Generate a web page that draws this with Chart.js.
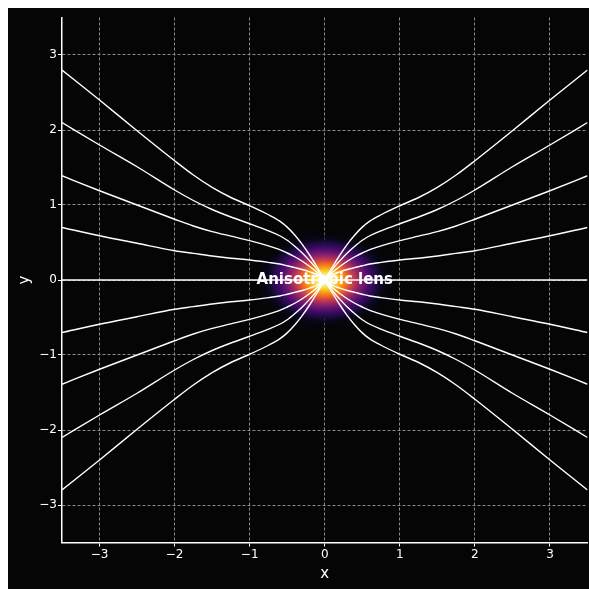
<!DOCTYPE html>
<html>
<head>
<meta charset="utf-8">
<script src="https://cdn.jsdelivr.net/npm/chart.js@4/dist/chart.umd.min.js"></script>
<style>
  html, body { background: #ffffff; overflow: hidden; }
  body { margin: 8px 0 0 8px; }
  #wrap { width: 581px; height: 581px; }
</style>
</head>
<body>
<div id="wrap"><canvas id="c" width="581" height="581"></canvas></div>
<script>
// ---- data ----
const halfX = [-3.5, -3, -2.5, -2, -1.75, -1.5, -1.25, -1, -0.75, -0.6, -0.5, -0.4, -0.3, -0.2, -0.1, 0];
const ray1 = [2.8, 2.4, 1.99, 1.59, 1.40, 1.235, 1.1, 0.99, 0.87, 0.785, 0.705, 0.60, 0.475, 0.33, 0.17, 0];
const ray2 = [2.1, 1.8, 1.51, 1.2, 1.06, 0.94, 0.84, 0.75, 0.655, 0.59, 0.53, 0.45, 0.36, 0.255, 0.14, 0];
const ray3 = [1.39, 1.19, 1.0, 0.81, 0.72, 0.645, 0.585, 0.525, 0.455, 0.405, 0.36, 0.31, 0.25, 0.18, 0.10, 0];
const ray4 = [0.7, 0.59, 0.49, 0.39, 0.355, 0.32, 0.29, 0.267, 0.235, 0.213, 0.19, 0.165, 0.14, 0.108, 0.07, 0];
const ray0 = [0, 0, 0, 0, 0, 0, 0, 0, 0, 0, 0, 0, 0, 0, 0, 0];
const xTicks = [-3, -2, -1, 0, 1, 2, 3];
const yTicks = [-3, -2, -1, 0, 1, 2, 3];
const lensLabel = 'Anisotropic lens';
const lensCenter = {x: 0, y: 0};
const lensSigma = {x: 0.34, y: 0.24};

// ---- build datasets: each ray mirrored left/right and up/down ----
const rays = [ray1, ray2, ray3, ray4];
const datasets = [];
function addSet(pts) {
  datasets.push({
    data: pts, showLine: true, pointRadius: 0, borderColor: '#ffffff',
    borderWidth: 1.4, cubicInterpolationMode: 'monotone', fill: false
  });
}
rays.forEach(r => {
  [1, -1].forEach(sy => {
    addSet(halfX.map((x, i) => ({x: x, y: sy * r[i]})));
    addSet(halfX.map((x, i) => ({x: -x, y: sy * r[i]})).reverse());
  });
});
addSet(halfX.map((x, i) => ({x: x, y: ray0[i]})).concat(
  halfX.slice(0, -1).map((x, i) => ({x: -x, y: ray0[i]})).reverse()));

// inferno colormap samples for the lens glow
const inferno = ['#000004','#160b39','#420a68','#6a176e','#932667','#bc3754','#dd513a','#f37819','#fca50a','#f6d746','#fcffa4'];
function hex(c){return [parseInt(c.substr(1,2),16),parseInt(c.substr(3,2),16),parseInt(c.substr(5,2),16)];}
function cmap(v){
  const vv = Math.max(0, Math.min(1, v)) * 10;
  const i = Math.min(9, Math.floor(vv)), f = vv - i;
  const a = hex(inferno[i]), b = hex(inferno[i+1]);
  const alpha = Math.min(1, v / 0.12);
  return 'rgba(' + a.map((q,k)=>Math.round(q+(b[k]-q)*f)).join(',') + ',' + alpha.toFixed(3) + ')';
}

const bgPlugin = {
  id: 'bg',
  beforeDraw(chart) {
    const ctx = chart.ctx;
    ctx.save();
    ctx.fillStyle = '#050505';
    ctx.fillRect(0, 0, chart.width, chart.height);
    ctx.restore();
  }
};
const lensPlugin = {
  id: 'lens',
  beforeDatasetsDraw(chart) {
    const {ctx, chartArea: a, scales: {x, y}} = chart;
    const cx = x.getPixelForValue(lensCenter.x), cy = y.getPixelForValue(lensCenter.y);
    const sx = Math.abs(x.getPixelForValue(lensSigma.x) - cx);
    const sy = Math.abs(y.getPixelForValue(lensSigma.y) - cy);
    const R = 3.5;
    ctx.save();
    ctx.beginPath(); ctx.rect(a.left, a.top, a.right - a.left, a.bottom - a.top); ctx.clip();
    ctx.translate(cx, cy);
    ctx.scale(sx, sy);
    const g = ctx.createRadialGradient(0, 0, 0, 0, 0, R);
    for (let k = 0; k <= 50; k++) {
      const t = k / 50, s = t * R;
      g.addColorStop(t, cmap(Math.exp(-s * s / 2)));
    }
    ctx.fillStyle = g;
    ctx.beginPath(); ctx.arc(0, 0, R, 0, Math.PI * 2); ctx.fill();
    ctx.restore();
  },
  afterDatasetsDraw(chart) {
    const {ctx, scales: {x, y}} = chart;
    ctx.save();
    ctx.font = 'bold 15px "DejaVu Sans"';
    ctx.fillStyle = '#ffffff';
    ctx.textAlign = 'center';
    ctx.textBaseline = 'middle';
    ctx.fillText(lensLabel, x.getPixelForValue(lensCenter.x), y.getPixelForValue(lensCenter.y));
    ctx.restore();
  }
};

const fmt = v => (v < 0 ? '\u2212' + Math.abs(v) : String(v));
const gridOpts = {
  color: '#8a8a8a', lineWidth: 1,
  drawTicks: true, tickLength: 4, tickColor: '#ffffff', tickWidth: 1, tickBorderDash: []
};
const borderOpts = {display: true, color: '#ffffff', width: 1.5, dash: [3, 2]};

new Chart(document.getElementById('c'), {
  type: 'scatter',
  data: {datasets},
  options: {
    responsive: false, animation: false, devicePixelRatio: 1,
    layout: {padding: {left: 0, top: 9.5, right: 1.5, bottom: 0}},
    plugins: {legend: {display: false}, tooltip: {enabled: false}},
    scales: {
      x: {
        type: 'linear', min: -3.5, max: 3.5,
        afterBuildTicks: s => { s.ticks = xTicks.map(v => ({value: v})); },
        afterFit: s => { s.height = 46.5; },
        grid: gridOpts,
        border: borderOpts,
        ticks: {color: '#ffffff', padding: 1, font: {family: 'DejaVu Sans', size: 12}, callback: fmt, maxRotation: 0},
        title: {display: true, text: 'x', color: '#ffffff', font: {family: 'DejaVu Sans', size: 15}, padding: {top: 0, bottom: 6}}
      },
      y: {
        type: 'linear', min: -3.5, max: 3.5,
        afterBuildTicks: s => { s.ticks = yTicks.map(v => ({value: v})); },
        afterFit: s => { s.width = 54; },
        grid: gridOpts,
        border: borderOpts,
        ticks: {color: '#ffffff', padding: 1, font: {family: 'DejaVu Sans', size: 12}, callback: fmt},
        title: {display: true, text: 'y', color: '#ffffff', font: {family: 'DejaVu Sans', size: 15}, padding: {top: 8, bottom: 0}}
      }
    }
  },
  plugins: [bgPlugin, lensPlugin]
});
</script>
</body>
</html>
